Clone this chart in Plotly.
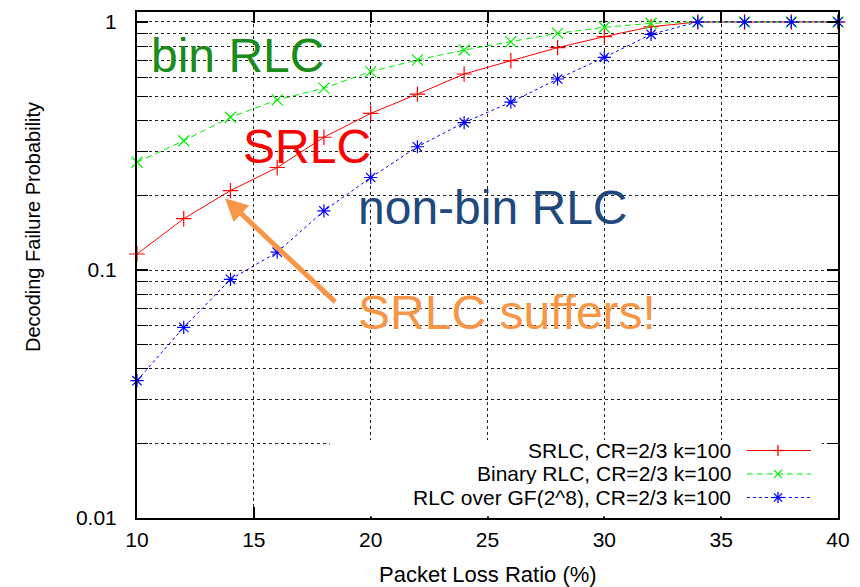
import plotly.graph_objects as go

# ---- data ----
loss_ratio = [10, 12, 14, 16, 18, 20, 22, 24, 26, 28, 30, 32, 34, 36, 38, 40]
srlc = [0.116, 0.161, 0.209, 0.259, 0.343, 0.428, 0.512, 0.617, 0.698, 0.788, 0.873, 0.957, 1, 1, 1, 1]
binary_rlc = [0.272, 0.332, 0.413, 0.485, 0.541, 0.631, 0.703, 0.771, 0.833, 0.900, 0.952, 0.988, 1, 1, 1, 1]
gf256_rlc = [0.0358, 0.0587, 0.0917, 0.118, 0.173, 0.236, 0.314, 0.393, 0.475, 0.589, 0.720, 0.892, 1, 1, 1, 1]

series_names = ["SRLC, CR=2/3 k=100", "Binary RLC, CR=2/3 k=100", "RLC over GF(2^8), CR=2/3 k=100"]
x_ticks = [10, 15, 20, 25, 30, 35, 40]
y_ticks = [0.01, 0.1, 1]
y_tick_text = ["0.01", "0.1", "1"]
y_minor = [0.02, 0.03, 0.04, 0.05, 0.06, 0.07, 0.08, 0.09, 0.2, 0.3, 0.4, 0.5, 0.6, 0.7, 0.8, 0.9]

FONT = "Liberation Sans, Arial, Helvetica, sans-serif"
styles = [
    dict(color="#ff0000", dash="solid", symbol="cross-thin", strokes=["+"]),
    dict(color="#00ee00", dash="6px,4px", symbol="x-thin", strokes=["x"]),
    dict(color="#0000ff", dash="3px,3px", symbol="asterisk-open", strokes=["+", "x"]),
]

fig = go.Figure()
for ys, st, name in zip([srlc, binary_rlc, gf256_rlc], styles, series_names):
    fig.add_trace(go.Scatter(
        x=loss_ratio, y=ys, mode="lines+markers", name=name, showlegend=False,
        line=dict(color=st["color"], width=1, dash=st["dash"]),
        marker=dict(symbol=st["symbol"], size=11, color=st["color"],
                    line=dict(color=st["color"], width=1.2)),
        cliponaxis=False,
    ))

# ---- gnuplot-style key: white box, text on the left, sample on the right ----
PW, PH = 701.0, 506.0  # plot area size in px
fig.add_shape(type="rect", xref="paper", yref="paper", x0=0.275, x1=0.977,
              y0=0.003, y1=0.154, fillcolor="white", line=dict(width=0), layer="above")
key_rows = [0.1334, 0.087, 0.0405]
for row_y, st, name in zip(key_rows, styles, series_names):
    fig.add_shape(type="line", xref="paper", yref="paper", x0=0.870, x1=0.9615,
                  y0=row_y, y1=row_y, line=dict(color=st["color"], width=1, dash=st["dash"]),
                  layer="above")
    cx, h = 0.9144, 5.5
    for s in st["strokes"]:
        if s == "+":
            segs = [(-h, 0, h, 0), (0, -h, 0, h)]
        else:
            d = h * 0.75
            segs = [(-d, -d, d, d), (-d, d, d, -d)]
        for (a, b, c, e) in segs:
            fig.add_shape(type="line", xref="paper", yref="paper",
                          x0=cx + a / PW, x1=cx + c / PW, y0=row_y + b / PH, y1=row_y + e / PH,
                          line=dict(color=st["color"], width=1.3), layer="above")
    fig.add_annotation(text=name, xref="paper", yref="paper", x=0.8488, y=row_y,
                       xanchor="right", yanchor="middle", showarrow=False, height=21,
                       valign="middle", borderpad=0,
                       font=dict(family=FONT, size=21, color="black"))

# ---- in-plot labels ----
labels = [
    ("bin RLC", 0.0165, 0.915, "#1a8c1a"),
    ("SRLC", 0.149, 0.735, "#ff0000"),
    ("non-bin RLC", 0.3125, 0.6146, "#1f497d"),
    ("SRLC suffers!", 0.313, 0.406, "#f79646"),
]
for txt, x, y, col in labels:
    fig.add_annotation(text=txt, xref="paper", yref="paper", x=x, y=y,
                       xanchor="left", yanchor="middle", showarrow=False,
                       font=dict(family=FONT, size=48, color=col))

fig.add_annotation(text="", xref="paper", yref="paper", x=0.1255, y=0.6318,
                   ax=111.7, ay=105, showarrow=True, arrowhead=2, arrowsize=0.9,
                   arrowwidth=5, arrowcolor="#f79646", standoff=0)

# axis titles
fig.add_annotation(text="Packet Loss Ratio (%)", xref="paper", yref="paper", x=0.5, y=-0.1126,
                   xanchor="center", yanchor="middle", showarrow=False,
                   font=dict(family=FONT, size=22, color="black"))
fig.add_annotation(text="Decoding Failure Probability", xref="paper", yref="paper",
                   x=-0.1484, y=0.575, textangle=-90, xanchor="center", yanchor="middle",
                   showarrow=False, font=dict(family=FONT, size=20, color="black"))

grid = dict(showgrid=True, gridcolor="#222222", gridwidth=1, griddash="dot")
fig.update_layout(
    template="none",
    width=852, height=579,
    margin=dict(l=129, r=22, t=4, b=69, autoexpand=False),
    paper_bgcolor="white", plot_bgcolor="white",
    font=dict(family=FONT, size=20, color="black"),
    xaxis=dict(range=[10, 40], tickvals=x_ticks, ticks="inside", ticklen=11, tickwidth=1.5,
               tickcolor="black", mirror="allticks", showline=True, linecolor="black", linewidth=2,
               zeroline=False, automargin=False, ticklabelstandoff=2, tickfont=dict(size=21),
               **grid),
    yaxis=dict(type="log", range=[-2, 0.0403], tickvals=y_ticks, ticktext=y_tick_text,
               ticks="inside", ticklen=11, tickwidth=1.5, tickcolor="black", mirror="allticks",
               showline=True, linecolor="black", linewidth=2, zeroline=False, automargin=False,
               ticklabelstandoff=14, tickfont=dict(size=21),
               minor=dict(tickvals=y_minor, ticks="inside", ticklen=11, tickwidth=1.2,
                          tickcolor="black", showgrid=True, gridcolor="#222222",
                          gridwidth=1, griddash="dot"),
               **grid),
)

fig.write_html("out.html")
